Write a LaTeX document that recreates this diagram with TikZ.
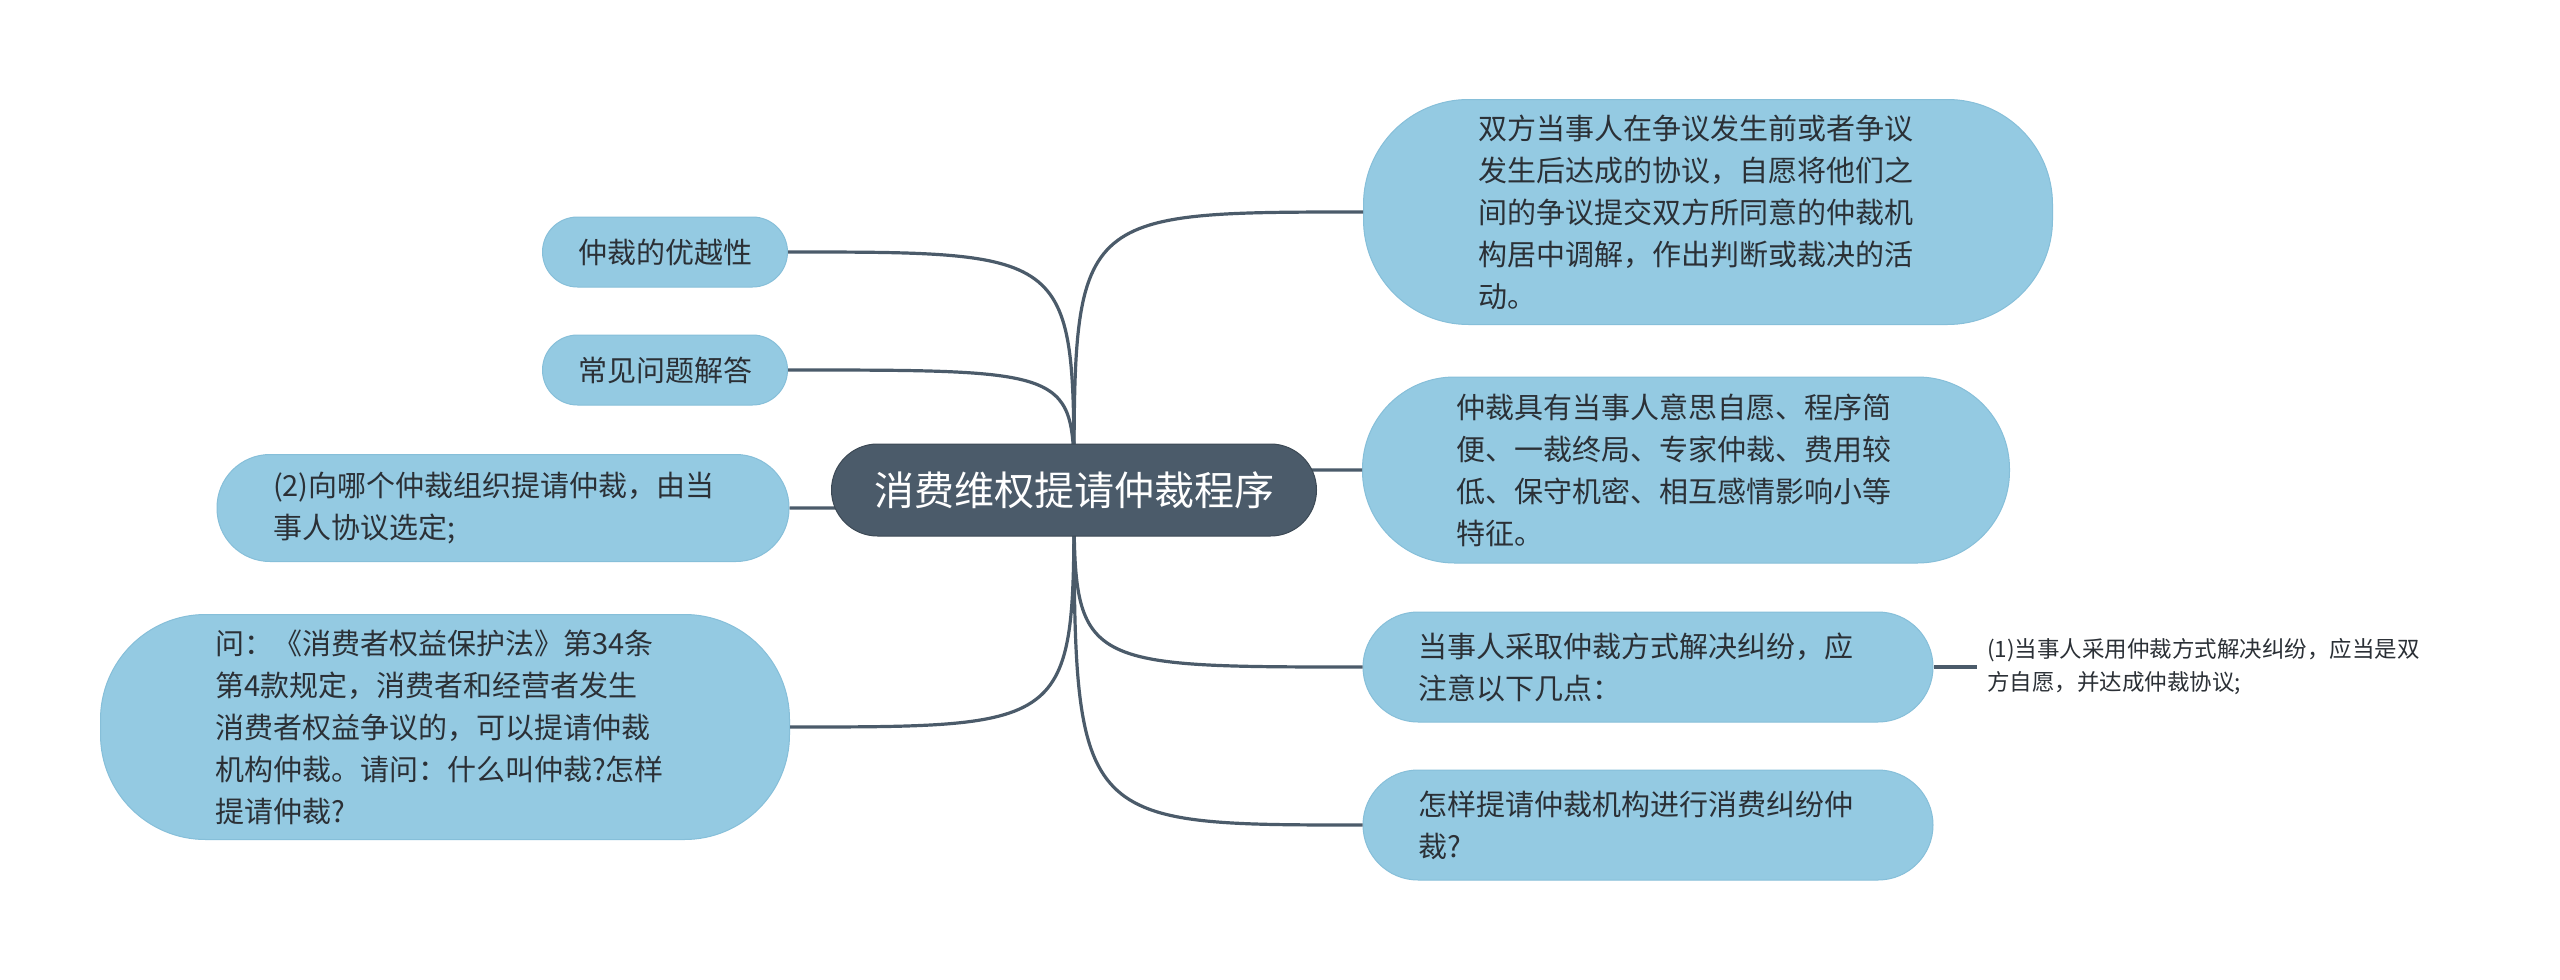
\documentclass[tikz,border=0pt]{standalone}
\usepackage{fontspec}
\setmainfont{Noto Sans CJK SC}
\definecolor{slate}{HTML}{4B5B6A}
\definecolor{leafblue}{HTML}{94CAE2}
\definecolor{leafedge}{HTML}{86BFD9}
\definecolor{txt}{HTML}{2B3036}
\tikzset{
  root/.style={fill=slate, draw=slate!80!black, line width=1pt, text=white, inner sep=0pt,
    font=\fontsize{40pt}{48pt}\selectfont},
  leaf/.style={fill=leafblue, draw=leafedge, line width=1pt, text=txt, inner sep=0pt, align=left,
    font=\fontsize{29pt}{42pt}\selectfont},
  multi/.style={leaf, text width=460pt},
  plain/.style={text=txt, inner sep=0pt, align=left, anchor=west,
    font=\fontsize{22.5pt}{33pt}\selectfont},
  link/.style={draw=slate, line width=3.2pt}
}
\begin{document}
\begin{tikzpicture}[x=1pt,y=-1pt]
\useasboundingbox[fill=white] (0,0) rectangle (2560,980);
% nodes
\coordinate (c) at (1074,490);
\node[leaf, minimum width=245pt, minimum height=70pt, rounded corners=35pt] (l1) at (665,252) {仲裁的优越性};
\node[leaf, minimum width=245pt, minimum height=70pt, rounded corners=35pt] (l2) at (665,370) {常见问题解答};
\node[multi, minimum width=572pt, minimum height=107pt, rounded corners=53pt] (l3) at (503,508) {(2)向哪个仲裁组织提请仲裁，由当\\事人协议选定;};
\node[multi, minimum width=689pt, minimum height=225pt, rounded corners=105pt] (l4) at (445,727) {问：《消费者权益保护法》第34条\\第4款规定，消费者和经营者发生\\消费者权益争议的，可以提请仲裁\\机构仲裁。请问：什么叫仲裁?怎样\\提请仲裁?};
\node[multi, minimum width=689pt, minimum height=225pt, rounded corners=105pt] (r1) at (1708,212) {双方当事人在争议发生前或者争议\\发生后达成的协议，自愿将他们之\\间的争议提交双方所同意的仲裁机\\构居中调解，作出判断或裁决的活\\动。};
\node[multi, minimum width=647pt, minimum height=186pt, rounded corners=92pt] (r2) at (1686,470) {仲裁具有当事人意思自愿、程序简\\便、一裁终局、专家仲裁、费用较\\低、保守机密、相互感情影响小等\\特征。};
\node[multi, minimum width=570pt, minimum height=110pt, rounded corners=55pt] (r3) at (1648,667) {当事人采取仲裁方式解决纠纷，应\\注意以下几点：};
\node[multi, minimum width=570pt, minimum height=110pt, rounded corners=55pt] (r4) at (1648,825) {怎样提请仲裁机构进行消费纠纷仲\\裁?};
\node[plain] (r5) at (1987,667) {(1)当事人采用仲裁方式解决纠纷，应当是双\\方自愿，并达成仲裁协议;};
% connectors (drawn before root so root covers them)
\draw[link] (c) .. controls (1074,252) .. (l1.east);
\draw[link] (c) .. controls (1074,370) .. (l2.east);
\draw[link] (c) .. controls (1074,508) .. (l3.east);
\draw[link] (c) .. controls (1074,727) .. (l4.east);
\draw[link] (c) .. controls (1074,212) .. (r1.west);
\draw[link] (c) .. controls (1074,470) .. (r2.west);
\draw[link] (c) .. controls (1074,667) .. (r3.west);
\draw[link] (c) .. controls (1074,825) .. (r4.west);
\draw[link] (r3.east) -- ([xshift=-10pt]r5.west);
\node[root, minimum width=485pt, minimum height=92pt, rounded corners=46pt] (root) at (c) {消费维权提请仲裁程序};
\end{tikzpicture}
\end{document}
